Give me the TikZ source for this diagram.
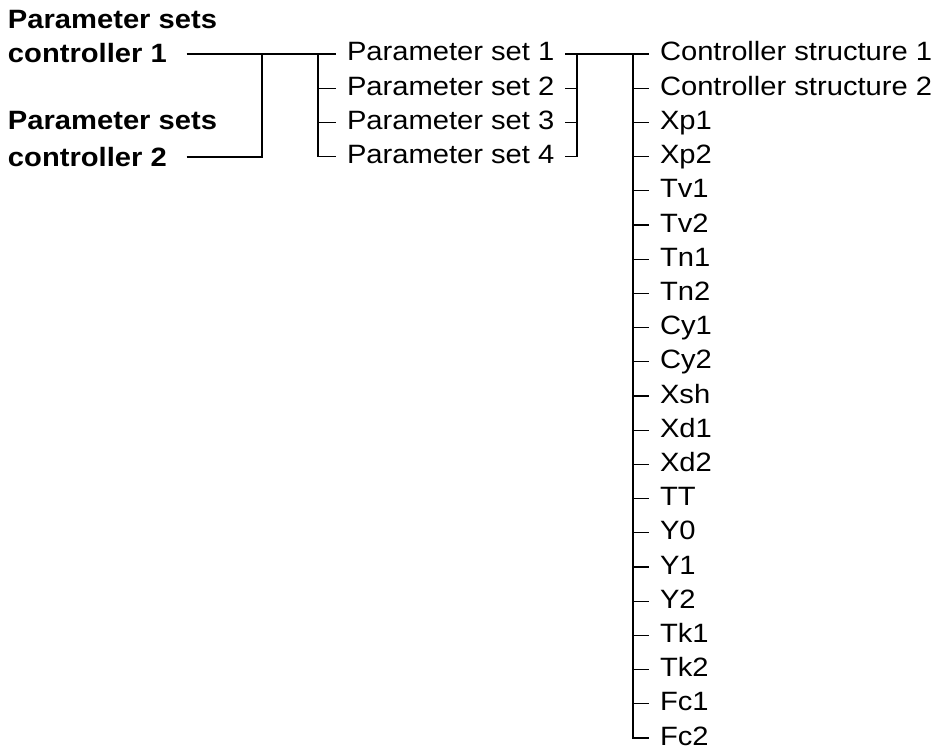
\documentclass[tikz,border=0pt]{standalone}
\usepackage{fontspec}
\setmainfont[FakeStretch=1.1]{Liberation Sans}
\begin{document}
\begin{tikzpicture}[x=1pt,y=-1pt,
  item/.style={inner sep=0pt, outer xsep=11pt, anchor=west, text height=14pt, text depth=0pt, font=\fontsize{26.5}{30}\selectfont},
  head/.style={inner sep=0pt, outer xsep=20pt, anchor=west, text height=18pt, text depth=0pt, font=\bfseries\fontsize{26.5}{30}\selectfont},
  conn/.style={line width=1.3pt, black}]
\useasboundingbox (0,0) rectangle (942,752);
% left headings
\node[head] (p1) at (-12,20) {Parameter sets};
\node[head] (c1) at (-12,54) {controller 1};
\node[head] (p2) at (-12,120) {Parameter sets};
\node[head] (c2) at (-12,157) {controller 2};
% parameter sets
\foreach \i in {1,...,4}
  \node[item] (s\i) at (336,{54+34.2*(\i-1)}) {Parameter set \i};
% right column
\foreach \t [count=\i] in {Controller structure 1,Controller structure 2,Xp1,Xp2,Tv1,Tv2,Tn1,Tn2,Cy1,Cy2,Xsh,Xd1,Xd2,TT,Y0,Y1,Y2,Tk1,Tk2,Fc1,Fc2}
  \node[item] (r\i) at (649,{54+34.2*(\i-1)}) {\t};
% junctions
\coordinate (ja) at (262,54);
\coordinate (jb) at (318,54);
\coordinate (jc) at (577,54);
\coordinate (jd) at (633,54);
% connectors left
\draw[conn] (c1.east) -- (s1.west);
\draw[conn] (c2.east) -| (ja);
\draw[conn] (jb) |- (s4.west);
\draw[conn] (jb |- s2.west) -- (s2.west);
\draw[conn] (jb |- s3.west) -- (s3.west);
% connectors middle
\draw[conn] (s1.east) -- (r1.west);
\draw[conn] (s4.east) -| (jc);
\draw[conn] (s2.east) -- (jc |- s2.east);
\draw[conn] (s3.east) -- (jc |- s3.east);
% connectors right
\draw[conn] (jd) |- (r21.west);
\foreach \i in {2,...,20}
  \draw[conn] (jd |- r\i.west) -- (r\i.west);
\end{tikzpicture}
\end{document}
